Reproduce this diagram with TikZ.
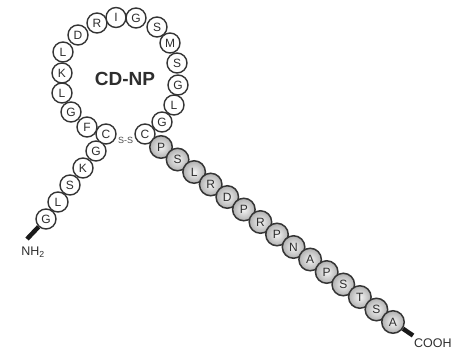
\documentclass[tikz,border=0pt]{standalone}
\usepackage{fontspec}
\setmainfont{Liberation Sans}
\begin{document}
\begin{tikzpicture}[x=1pt,y=-1pt]
\definecolor{edge}{HTML}{353535}
\definecolor{ink}{HTML}{2E2E2E}
\tikzset{
  wres/.style={circle, draw=edge, line width=1.4pt, fill=white, minimum size=20pt, inner sep=0pt, text=ink, font=\fontsize{12}{13}\selectfont},
  gres/.style={circle, draw=edge, line width=1.5pt, shading=radial, inner color=gray!8, outer color=gray!62, minimum size=22.5pt, inner sep=0pt, text=ink, font=\fontsize{12}{13}\selectfont},
  stub/.style={line width=4.5pt, black!90},
  lbl/.style={text=ink, inner sep=0pt, font=\fontsize{12.5}{13}\selectfont}
}
\useasboundingbox (0,0) rectangle (452,349);
% ring
\foreach \l/\x/\y [count=\i] in {C/106/134, F/87/127, G/71/112, L/62/93, K/62/73, L/63/52, D/78/35, R/97/23, I/116/17.5, G/136/18, S/157/27, M/170/43, S/177/63, G/178/85, L/174/105, G/162/122, C/145/134}
  \node[wres] (ring\i) at (\x,\y) {\l};
% N-terminal tail
\foreach \l/\x/\y [count=\i] in {G/96/151, K/83/168, S/70/185, L/58/202, G/46/219}
  \node[wres] (nt\i) at (\x,\y) {\l};
% C-terminal tail
\foreach \l [count=\i from 0] in {P,S,L,R,D,P,R,P,N,A,P,S,T,S,A}
  \node[gres] (ct\i) at ({161+\i*16.57},{147+\i*12.5}) {\l};
% labels
\node[text=ink, font=\bfseries\fontsize{19}{21}\selectfont] (title) at (125,79) {CD-NP};
\node[text=ink!85, inner sep=0pt, font=\fontsize{9}{10}\selectfont] (ss) at (125.5,140.5) {S-S};
% termini
\coordinate (nhend) at (27,239);
\draw[stub] (nt5) -- (nhend);
\node[lbl] (nh) at (33,252) {NH\textsubscript{2}};
\coordinate (coend) at (413,335.5);
\draw[stub] (ct14) -- (coend);
\node[lbl, anchor=west] (cooh) at (414,343) {COOH};
\end{tikzpicture}
\end{document}
